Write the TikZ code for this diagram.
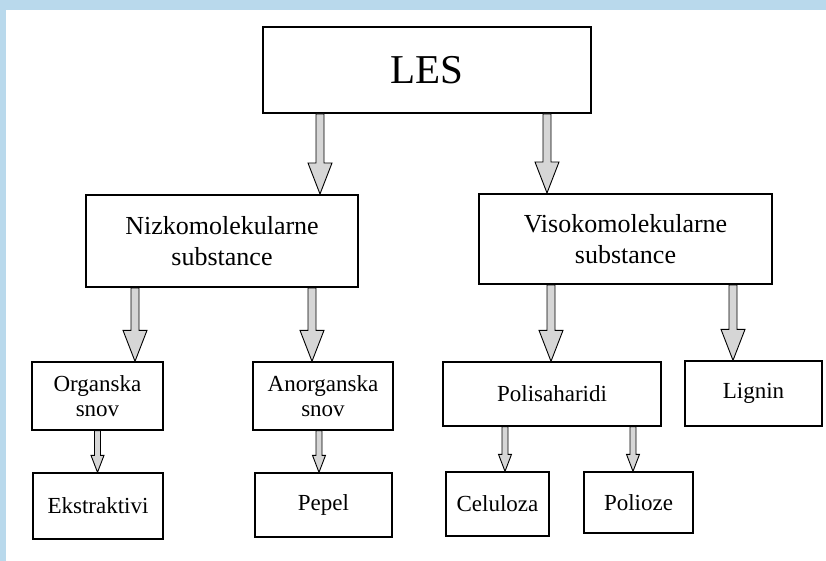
\documentclass[tikz,border=0pt]{standalone}
\usepackage{fontspec}
\setmainfont{Liberation Serif}
\usetikzlibrary{calc}

\definecolor{framecol}{HTML}{B9D9EC}
\definecolor{arrowgray}{HTML}{D6D6D6}

% hollow block arrow: shaft half-width, head half-width, head length, start, target
\newcommand{\blockarrow}[5]{%
  \filldraw[arrowbody] let \p1=(#4), \p2=(#5) in
    ({\x1-#1},{\y1}) -- ({\x1-#1},{\y2+#3}) -- ({\x1-#2},{\y2+#3})
    -- ({\x1},{\y2}) -- ({\x1+#2},{\y2+#3}) -- ({\x1+#1},{\y2+#3})
    -- ({\x1+#1},{\y1}) -- cycle;}
\newcommand{\bigarrow}[2]{\blockarrow{4pt}{12pt}{31pt}{#1}{#2}}
\newcommand{\smallarrow}[2]{\blockarrow{3pt}{6.5pt}{17pt}{#1}{#2}}

\begin{document}
\begin{tikzpicture}[
  x=1pt, y=-1pt,
  every node/.style={inner sep=0pt, align=center},
  topbox/.style={draw, line width=2pt, font=\fontsize{26}{31}\selectfont},
  subbox/.style={draw, line width=1.3pt, font=\fontsize{23}{25}\selectfont},
  arrowbody/.style={draw, line width=0.9pt, fill=arrowgray, line join=miter}
]
  % Frame
  \fill[framecol] (0,0) rectangle (826,561);
  \fill[white] (6,10) rectangle (826,561);
  \useasboundingbox (0,0) rectangle (826,561);

  % Top level
  \node[topbox, minimum width=328pt, minimum height=86pt,
    font=\fontsize{41}{41}\selectfont] at (427,70) (les) {LES};

  % Second level
  \node[topbox, minimum width=272pt, minimum height=92pt]
    at (222,241) (nizko) {Nizkomolekularne\\substance};
  \node[topbox, minimum width=293pt, minimum height=90pt]
    at (625.5,239) (visoko) {Visokomolekularne\\substance};

  % Third level
  \node[subbox, minimum width=131pt, minimum height=68pt]
    at (97.5,396) (organska) {Organska\\snov};
  \node[subbox, minimum width=140pt, minimum height=68pt]
    at (323,396) (anorganska) {Anorganska\\snov};
  \node[subbox, minimum width=218pt, minimum height=64pt]
    at (552,394) (polisaharidi) {Polisaharidi};
  \node[subbox, minimum width=137pt, minimum height=65pt]
    at (753.5,393.5) (lignin) {Lignin};

  % Fourth level
  \node[subbox, minimum width=130pt, minimum height=66pt]
    at (98,506) (ekstraktivi) {Ekstraktivi};
  \node[subbox, minimum width=137pt, minimum height=64pt]
    at (323.5,505) (pepel) {Pepel};
  \node[subbox, minimum width=103pt, minimum height=64pt]
    at (497.5,504) (celuloza) {Celuloza};
  \node[subbox, minimum width=109pt, minimum height=61pt]
    at (638.5,502.5) (polioze) {Polioze};

  % Arrows
  \bigarrow{[xshift=-107pt]les.south}{nizko.north}
  \bigarrow{[xshift=120pt]les.south}{visoko.north}
  \bigarrow{[xshift=-87pt]nizko.south}{organska.north}
  \bigarrow{[xshift=90pt]nizko.south}{anorganska.north}
  \bigarrow{[xshift=-74.5pt]visoko.south}{polisaharidi.north}
  \bigarrow{[xshift=107.5pt]visoko.south}{lignin.north}
  \smallarrow{organska.south}{ekstraktivi.north}
  \smallarrow{[xshift=-4pt]anorganska.south}{pepel.north}
  \smallarrow{[xshift=-47pt]polisaharidi.south}{celuloza.north}
  \smallarrow{[xshift=81pt]polisaharidi.south}{polioze.north}
\end{tikzpicture}
\end{document}
